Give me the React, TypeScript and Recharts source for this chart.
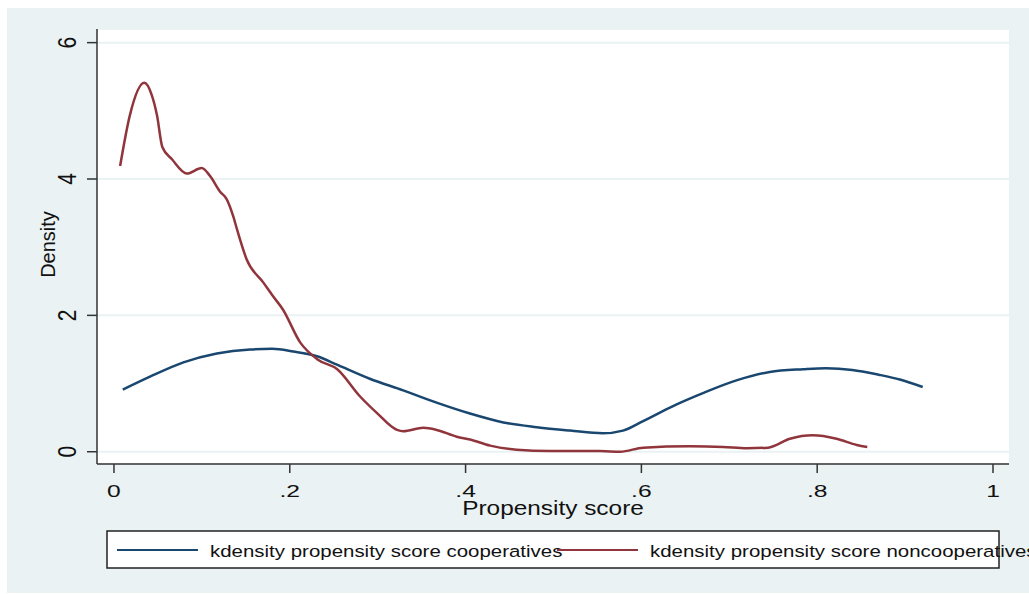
import React from 'react';
import { LineChart, Line, XAxis, YAxis, CartesianGrid } from 'recharts';

// kdensity curves (x = propensity score, y = density)
const coopX = [0.01, 0.041, 0.079, 0.117, 0.155, 0.18, 0.204, 0.231, 0.253, 0.291, 0.329, 0.367, 0.405, 0.443, 0.481, 0.519, 0.556, 0.579, 0.602, 0.636, 0.67, 0.709, 0.746, 0.784, 0.81, 0.84, 0.87, 0.894, 0.92];
const coopY = [0.91, 1.1, 1.31, 1.44, 1.5, 1.51, 1.47, 1.4, 1.28, 1.07, 0.9, 0.72, 0.56, 0.43, 0.36, 0.31, 0.27, 0.31, 0.45, 0.67, 0.86, 1.05, 1.17, 1.21, 1.225, 1.2, 1.13, 1.06, 0.95];

const noncoopX = [0.007, 0.018, 0.0345, 0.043, 0.049, 0.055, 0.066, 0.083, 0.0998, 0.109, 0.121, 0.128, 0.136, 0.14, 0.151, 0.17, 0.181, 0.192, 0.212, 0.232, 0.254, 0.28, 0.299, 0.322, 0.329, 0.352, 0.367, 0.39, 0.405, 0.428, 0.458, 0.496, 0.553, 0.576, 0.602, 0.655, 0.693, 0.72, 0.744, 0.769, 0.795, 0.822, 0.845, 0.857];
const noncoopY = [4.19, 4.93, 5.41, 5.23, 4.93, 4.47, 4.29, 4.08, 4.16, 4.05, 3.81, 3.71, 3.44, 3.26, 2.82, 2.48, 2.28, 2.09, 1.6, 1.35, 1.21, 0.81, 0.57, 0.32, 0.3, 0.35, 0.32, 0.22, 0.18, 0.09, 0.03, 0.01, 0.01, 0.0, 0.06, 0.08, 0.07, 0.05, 0.06, 0.19, 0.24, 0.19, 0.1, 0.07];

const xTicks = [0, 0.2, 0.4, 0.6, 0.8, 1];
const xTickLabels = ['0', '.2', '.4', '.6', '.8', '1'];
const yTicks = [0, 2, 4, 6];
const yTickLabels = ['0', '2', '4', '6'];

const seriesNames = ['kdensity propensity score cooperatives', 'kdensity propensity score noncooperatives'];
const seriesColors = ['#1a476f', '#90353b'];

const FONT = '"Liberation Sans", Arial, Helvetica, sans-serif';
const BG = '#eaf2f3';
const AXIS = '#333';

const toPoints = (xs: number[], ys: number[]) => xs.map((x, i) => ({ x, density: ys[i] }));
const coopData = toPoints(coopX, coopY);
const noncoopData = toPoints(noncoopX, noncoopY);

const lookup = (ticks: number[], labels: string[], v: number) => {
    const i = ticks.findIndex(t => Math.abs(t - v) < 1e-9);
    return i >= 0 ? labels[i] : String(v);
};

// the source image is stretched sideways, so text gets a horizontal scale
const XTick = ({ x, y, payload }: any) => (
    <g transform={`translate(${x},${y + 24})`}>
        <text transform="scale(1.45,1)" textAnchor="middle" fontSize={17} fontFamily={FONT} fill="#111">
            {lookup(xTicks, xTickLabels, payload.value)}
        </text>
    </g>
);

const YTick = ({ x, y, payload }: any) => (
    <g transform={`translate(${x - 11},${y}) scale(1.22,1) rotate(-90)`}>
        <text textAnchor="middle" fontSize={21} fontFamily={FONT} fill="#111">
            {lookup(yTicks, yTickLabels, payload.value)}
        </text>
    </g>
);

const XTitle = ({ viewBox }: any) => {
    const vb = viewBox || { x: 90, y: 456, width: 912, height: 130 };
    return (
        <g transform={`translate(${vb.x + vb.width / 2},${vb.y + 51})`}>
            <text transform="scale(1.22,1)" textAnchor="middle" fontSize={20} fontFamily={FONT} fill="#111">
                Propensity score
            </text>
        </g>
    );
};

const YTitle = ({ viewBox }: any) => {
    const vb = viewBox || { x: 0, y: 21, width: 90, height: 435 };
    return (
        <g transform={`translate(${vb.x + 48},${vb.y + vb.height / 2 - 2}) rotate(-90)`}>
            <text textAnchor="middle" fontSize={20} fontFamily={FONT} fill="#111">
                Density
            </text>
        </g>
    );
};

const LegendBox = () => (
    <svg width={1029} height={594} style={{ position: 'absolute', left: 0, top: 0, pointerEvents: 'none' }}>
        <rect x={107} y={531} width={892} height={37} fill="#fff" stroke="#222" strokeWidth={1.5} />
        {seriesNames.map((name, i) => {
            const start = 117 + i * 440;
            return (
                <g key={name}>
                    <line x1={start} x2={start + 81} y1={550} y2={550} stroke={seriesColors[i]} strokeWidth={2} />
                    <g transform={`translate(${start + 93},557) scale(1.24,1)`}>
                        <text fontSize={16.5} fontFamily={FONT} fill="#111">{name}</text>
                    </g>
                </g>
            );
        })}
    </svg>
);

export default function App() {
    return (
        <div style={{ position: 'fixed', left: 0, top: 0, width: 1029, height: 594, overflow: 'hidden', background: '#fff' }}>
            <div style={{ position: 'absolute', left: 7, top: 8, width: 1022, height: 585, background: BG }}>
                <LineChart width={1022} height={585} margin={{ top: 21, right: 20, left: 0, bottom: 0 }}>
                    <CartesianGrid vertical={false} fill="#fff" stroke={BG} strokeWidth={2} />
                    <XAxis
                        type="number"
                        dataKey="x"
                        domain={[-0.0193, 1.0182]}
                        ticks={xTicks}
                        allowDataOverflow
                        height={129}
                        tickSize={9}
                        tickMargin={0}
                        stroke={AXIS}
                        strokeWidth={1.5}
                        tick={<XTick />}
                        label={<XTitle />}
                    />
                    <YAxis
                        type="number"
                        dataKey="density"
                        domain={[-0.18, 6.2]}
                        ticks={yTicks}
                        allowDataOverflow
                        width={90}
                        tickSize={10}
                        tickMargin={0}
                        stroke={AXIS}
                        strokeWidth={1.5}
                        tick={<YTick />}
                        label={<YTitle />}
                    />
                    <Line
                        data={coopData}
                        dataKey="density"
                        name={seriesNames[0]}
                        type="monotone"
                        stroke={seriesColors[0]}
                        strokeWidth={2.5}
                        dot={false}
                        isAnimationActive={false}
                    />
                    <Line
                        data={noncoopData}
                        dataKey="density"
                        name={seriesNames[1]}
                        type="monotone"
                        stroke={seriesColors[1]}
                        strokeWidth={2.5}
                        dot={false}
                        isAnimationActive={false}
                    />
                </LineChart>
            </div>
            <LegendBox />
        </div>
    );
}
